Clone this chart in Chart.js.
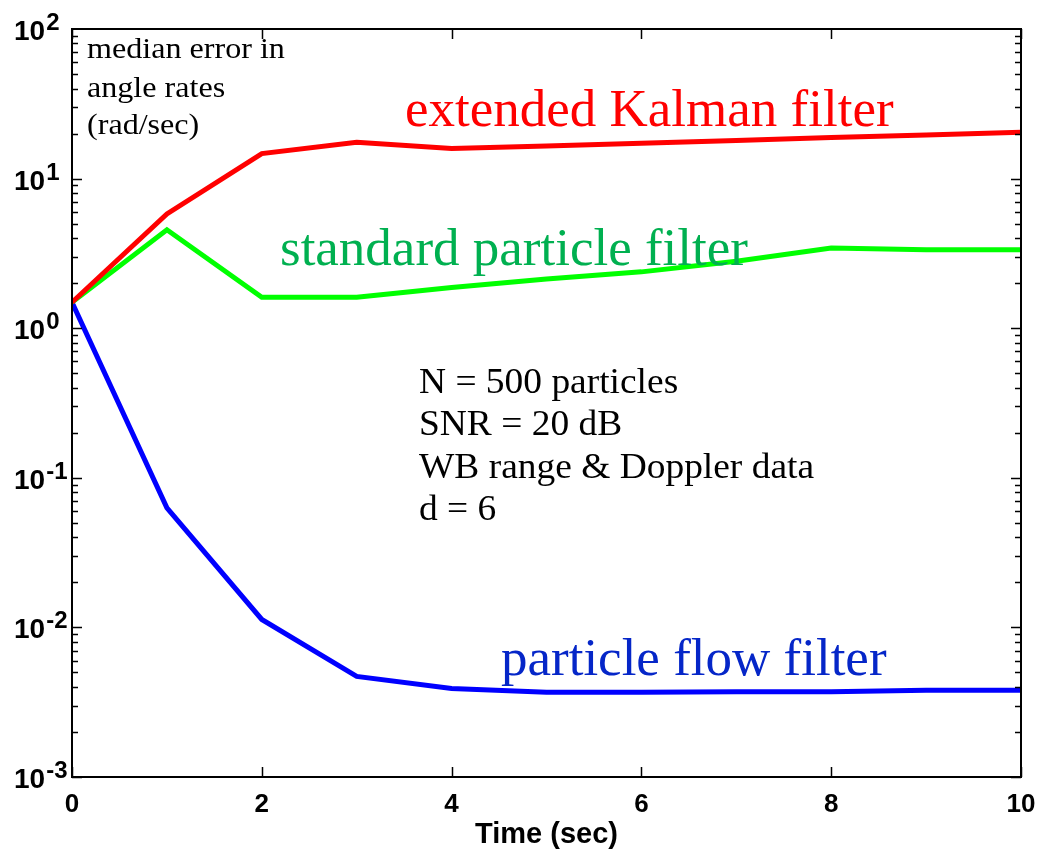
<!DOCTYPE html>
<html>
<head>
<meta charset="utf-8">
<script src="https://cdn.jsdelivr.net/npm/chart.js@4"></script>
<style>
  body { margin: 0; background: #fff; }
  canvas { display: block; }
</style>
</head>
<body>
<canvas id="myChart" width="1044" height="851"></canvas>
<script>
// time axis (sec)
const times = [0, 1, 2, 3, 4, 5, 6, 7, 8, 9, 10];
// median error in angle rates (rad/sec)
const ekf = [1.49, 5.8, 14.7, 17.5, 15.9, 16.5, 17.2, 18.0, 18.8, 19.6, 20.4];
const spf = [1.49, 4.55, 1.61, 1.61, 1.87, 2.13, 2.38, 2.8, 3.44, 3.35, 3.35];
const pff = [1.49, 0.063, 0.0113, 0.0047, 0.0039, 0.00368, 0.00368, 0.00372, 0.00372, 0.0038, 0.0038];
const xTicks = [0, 2, 4, 6, 8, 10];
const yExponents = [2, 1, 0, -1, -2, -3];

document.addEventListener('DOMContentLoaded', function() {
  const ctx = document.getElementById('myChart').getContext('2d');

  function toPoints(arr) {
    return arr.map((v, i) => ({ x: times[i], y: v }));
  }

  // text drawn with a slight horizontal stretch (the black notes are a bit wide in the original)
  function stretchedText(c, s, x, y, sx) {
    c.save();
    c.translate(x, y);
    c.scale(sx, 1);
    c.fillText(s, 0, 0);
    c.restore();
  }

  // draws the matlab-style box, inner ticks, tick labels and annotations
  const matlabAxes = {
    id: 'matlabAxes',
    afterDraw(chart) {
      const c = chart.ctx;
      const a = chart.chartArea;
      const xs = chart.scales.x;
      const ys = chart.scales.y;
      c.save();
      c.strokeStyle = '#000';
      c.lineWidth = 2;
      c.strokeRect(a.left, a.top, a.right - a.left, a.bottom - a.top);

      c.lineWidth = 1.5;
      // x ticks
      xTicks.forEach(t => {
        const px = Math.round(xs.getPixelForValue(t)) + 0.5;
        c.beginPath();
        c.moveTo(px, a.bottom); c.lineTo(px, a.bottom - 10);
        c.moveTo(px, a.top); c.lineTo(px, a.top + 10);
        c.stroke();
      });
      // y ticks (major + minor)
      for (let e = -3; e <= 1; e++) {
        for (let m = 1; m <= 9; m++) {
          const v = m * Math.pow(10, e);
          const py = Math.round(ys.getPixelForValue(v)) + 0.5;
          const len = m === 1 ? 10 : 6;
          c.beginPath();
          c.moveTo(a.left, py); c.lineTo(a.left + len, py);
          c.moveTo(a.right, py); c.lineTo(a.right - len, py);
          c.stroke();
        }
      }

      // x tick labels
      c.fillStyle = '#000';
      c.font = 'bold 26px "Liberation Sans", Arial, sans-serif';
      c.textAlign = 'center';
      c.textBaseline = 'alphabetic';
      xTicks.forEach(t => {
        c.fillText(String(t), xs.getPixelForValue(t), a.bottom + 35);
      });
      c.font = 'bold 29px "Liberation Sans", Arial, sans-serif';
      c.fillText('Time (sec)', (a.left + a.right) / 2, a.bottom + 66);

      // y tick labels: 10 with superscript exponent
      c.textAlign = 'left';
      yExponents.forEach(e => {
        const py = ys.getPixelForValue(Math.pow(10, e));
        c.font = 'bold 28px "Liberation Sans", Arial, sans-serif';
        c.fillText('10', 14, py + 11);
        const w = c.measureText('10').width;
        c.font = 'bold 24px "Liberation Sans", Arial, sans-serif';
        c.fillText(String(e), 14 + w + 1, py + 1);
      });

      // annotations
      c.font = '30px "Liberation Serif", "Times New Roman", serif';
      c.fillStyle = '#000';
      stretchedText(c, 'median error in', 87, 58, 1.07);
      stretchedText(c, 'angle rates', 87, 97, 1.07);
      stretchedText(c, '(rad/sec)', 87, 134, 1.07);

      c.font = '36px "Liberation Serif", "Times New Roman", serif';
      ['N = 500 particles', 'SNR = 20 dB', 'WB range & Doppler data', 'd = 6'].forEach((s, i) => {
        stretchedText(c, s, 419, 393 + i * 42.3, 1.04);
      });

      c.font = '53px "Liberation Serif", "Times New Roman", serif';
      c.fillStyle = '#ff0000';
      c.fillText('extended Kalman filter', 405, 126);
      c.fillStyle = '#00b050';
      c.fillText('standard particle filter', 280, 265);
      c.fillStyle = '#0526c8';
      c.fillText('particle flow filter', 501, 675);
      c.restore();
    }
  };

  function series(label, data, color) {
    return {
      label: label,
      data: toPoints(data),
      borderColor: color,
      backgroundColor: color,
      borderWidth: 5,
      pointRadius: 0,
      tension: 0,
      fill: false
    };
  }

  new Chart(ctx, {
    type: 'line',
    data: {
      datasets: [
        series('extended Kalman filter', ekf, '#ff0000'),
        series('standard particle filter', spf, '#00ff00'),
        series('particle flow filter', pff, '#0000ff')
      ]
    },
    options: {
      responsive: false,
      animation: false,
      layout: { padding: { left: 72, right: 23, top: 29, bottom: 74 } },
      plugins: { legend: { display: false }, tooltip: { enabled: false } },
      scales: {
        x: {
          type: 'linear',
          min: 0, max: 10,
          grid: { display: false, drawTicks: false },
          border: { display: false },
          ticks: { display: false }
        },
        y: {
          type: 'logarithmic',
          min: 0.001, max: 100,
          grid: { display: false, drawTicks: false },
          border: { display: false },
          ticks: { display: false }
        }
      }
    },
    plugins: [matlabAxes]
  });
});
</script>
</body>
</html>
